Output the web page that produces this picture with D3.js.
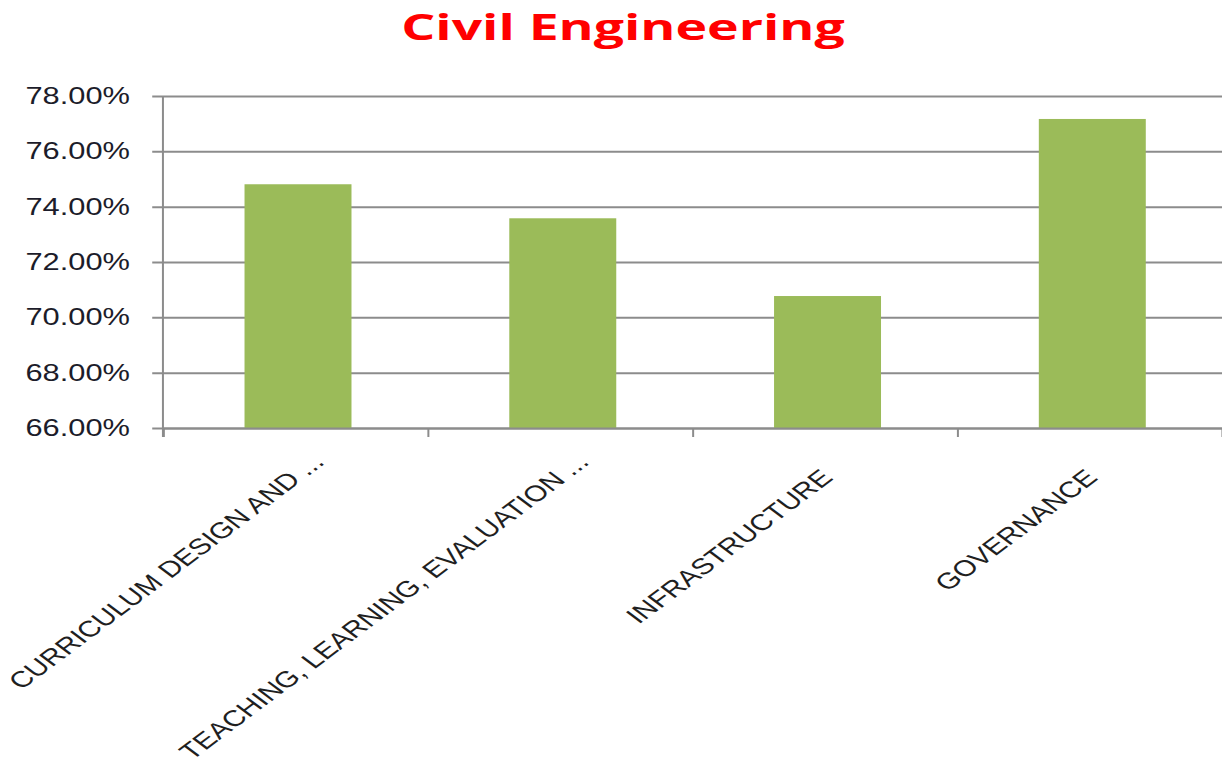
<!DOCTYPE html>
<html>
<head>
<meta charset="utf-8">
<script src="https://cdn.jsdelivr.net/npm/d3@7"></script>
<style>
  html, body { margin: 0; padding: 0; background: #fff; }
  svg { display: block; }
</style>
</head>
<body>
<svg id="chart"></svg>
<script>
// chart data
const categories = ["CURRICULUM DESIGN AND ...", "TEACHING, LEARNING, EVALUATION ...", "INFRASTRUCTURE", "GOVERNANCE"];
const scores = [0.7481, 0.7358, 0.7077, 0.7717];
const yTicks = [0.66, 0.68, 0.70, 0.72, 0.74, 0.76, 0.78];
const title = "Civil Engineering";

const width = 1222, height = 763;
// the original picture is stretched sideways, so draw in a narrower box
const stretch = 1.34;
const vbW = width / stretch;

const x0 = 121.6, x1 = vbW;
const yTop = 96, yBottom = 428;

const svg = d3.select("#chart")
  .attr("width", width)
  .attr("height", height)
  .attr("viewBox", "0 0 " + vbW + " " + height)
  .attr("preserveAspectRatio", "none");

const x = d3.scaleBand()
  .domain(categories)
  .range([x0 + 2, x1 + 2])
  .paddingInner(0.596)
  .paddingOuter(0.298);

const xEdges = d3.scaleLinear()
  .domain([0, categories.length])
  .range([x0, x1]);

const y = d3.scaleLinear()
  .domain([d3.min(yTicks), d3.max(yTicks)])
  .range([yBottom, yTop]);

// gridlines + y labels
const yAxis = svg.append("g")
  .attr("transform", "translate(" + (x0 - 8) + ",0)")
  .call(d3.axisLeft(y).tickValues(yTicks).tickFormat(d3.format(".2%"))
    .tickSize(-(x1 - x0 + 8)).tickPadding(16.6));
yAxis.select(".domain").remove();
yAxis.selectAll(".tick line")
  .attr("stroke", "#8c8c8c")
  .attr("stroke-width", 2)
  .attr("vector-effect", "non-scaling-stroke");
yAxis.selectAll(".tick text")
  .attr("font-family", "'Liberation Sans', Arial, sans-serif")
  .attr("font-size", 23)
  .attr("fill", "#1c1c2a");

// bars
svg.selectAll(".bar")
  .data(categories)
  .enter()
  .append("rect")
  .attr("class", "bar")
  .attr("x", d => x(d))
  .attr("y", (d, i) => y(scores[i]))
  .attr("width", x.bandwidth())
  .attr("height", (d, i) => y(d3.min(yTicks)) - y(scores[i]))
  .attr("fill", "#9bbb59");

// x axis ticks at category edges
const xAxis = svg.append("g")
  .attr("transform", "translate(0," + yBottom + ")")
  .call(d3.axisBottom(xEdges).tickValues(d3.range(categories.length + 1)).tickSize(9).tickFormat(""));
xAxis.select(".domain")
  .attr("stroke", "#8c8c8c")
  .attr("stroke-width", 2)
  .attr("vector-effect", "non-scaling-stroke");
xAxis.selectAll(".tick line")
  .attr("stroke", "#8c8c8c")
  .attr("stroke-width", 2)
  .attr("vector-effect", "non-scaling-stroke");

// vertical axis line
svg.append("line")
  .attr("x1", x0).attr("x2", x0)
  .attr("y1", y(d3.max(yTicks))).attr("y2", yBottom + 9)
  .attr("stroke", "#8c8c8c")
  .attr("stroke-width", 2)
  .attr("vector-effect", "non-scaling-stroke");

// rotated category labels
svg.selectAll(".cat")
  .data(categories)
  .enter()
  .append("text")
  .attr("class", "cat")
  .attr("transform", d => "translate(" + (x(d) + x.bandwidth() / 2 + 5) + "," + (yBottom + 51) + ") rotate(-45)")
  .attr("dx", d => d.endsWith("...") ? 22 : 0)
  .attr("text-anchor", "end")
  .attr("font-family", "'Liberation Sans', Arial, sans-serif")
  .attr("font-size", 22.5)
  .attr("fill", "#1f1f1f")
  .text(d => d);

// title
svg.append("text")
  .attr("x", 623 / stretch)
  .attr("y", 40)
  .attr("text-anchor", "middle")
  .attr("font-family", "'Open Sans', 'Liberation Sans', sans-serif")
  .attr("font-weight", "bold")
  .attr("font-size", 36)
  .attr("textLength", 331)
  .attr("lengthAdjust", "spacingAndGlyphs")
  .attr("fill", "#ff0000")
  .text(title);
</script>
</body>
</html>
